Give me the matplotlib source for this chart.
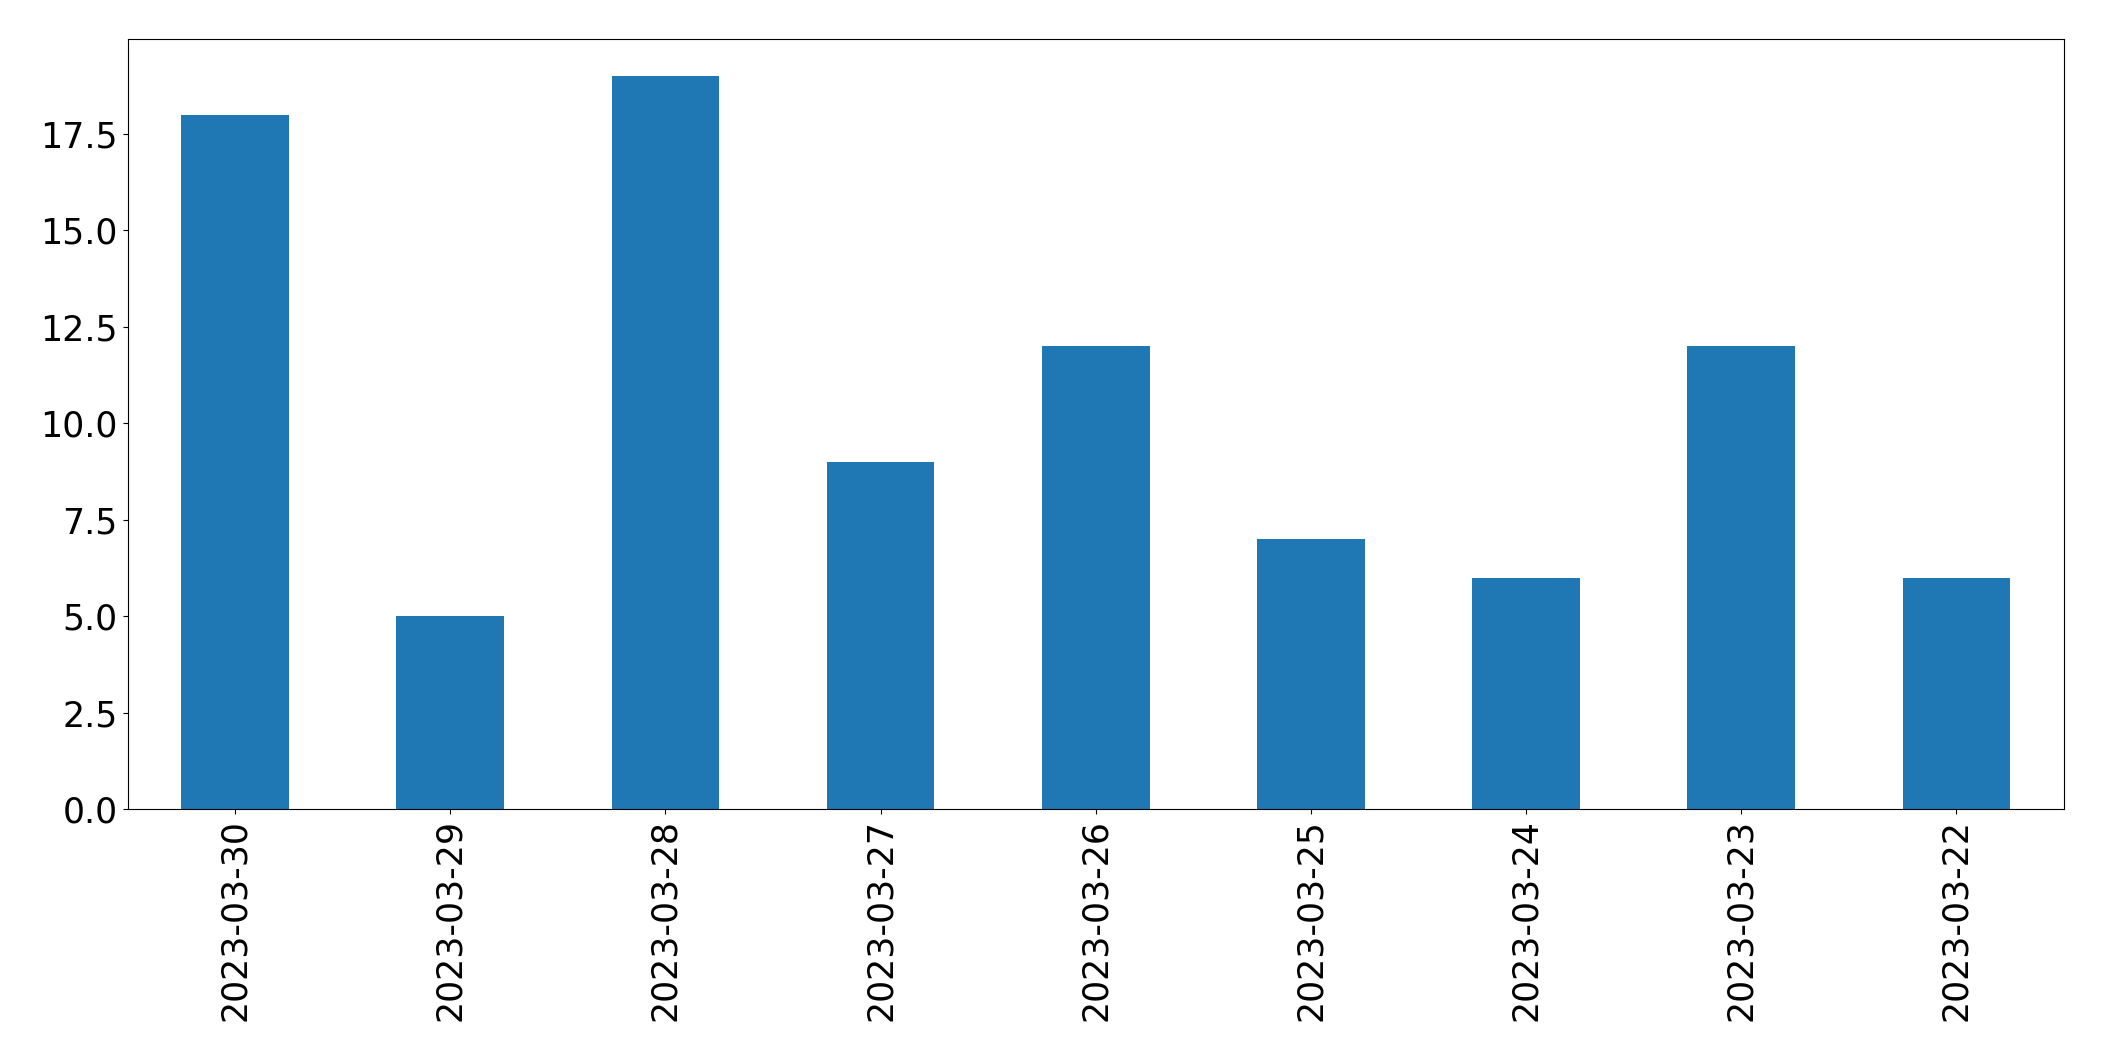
import matplotlib
matplotlib.use("Agg")
import matplotlib.pyplot as plt

# daily counts, newest first
dates = ["2023-03-30", "2023-03-29", "2023-03-28", "2023-03-27", "2023-03-26",
         "2023-03-25", "2023-03-24", "2023-03-23", "2023-03-22"]
counts = [18, 5, 19, 9, 12, 7, 6, 12, 6]

fig, ax = plt.subplots(figsize=(21.04, 10.61), dpi=100)
fig.subplots_adjust(left=0.0606, right=0.981, top=0.9628, bottom=0.2375)

x = range(len(dates))
ax.bar(x, counts, width=0.5, color="#1f77b4")
ax.set_xlim(-0.5, len(dates) - 0.5)
ax.set_ylim(0, max(counts) * 1.05)
ax.set_xticks(list(x))
ax.set_xticklabels(dates, rotation=90)
ax.tick_params(labelsize=25)

plt.savefig("out.png", dpi=100)
